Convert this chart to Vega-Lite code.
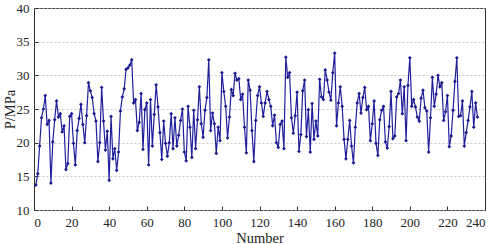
{
  "$schema": "https://vega.github.io/schema/vega-lite/v6.json",
  "width": 451,
  "height": 202,
  "autosize": {"type": "none"},
  "padding": {"left": 34, "top": 8, "right": 13, "bottom": 34},
  "background": "white",
  "config": {
    "view": {"stroke": "#333333", "strokeWidth": 1},
    "font": "Liberation Serif",
    "axis": {
      "labelFont": "Liberation Serif",
      "titleFont": "Liberation Serif",
      "labelFontSize": 13,
      "titleFontSize": 14.5,
      "titleFontWeight": "normal",
      "labelColor": "#222222",
      "titleColor": "#222222",
      "domain": false,
      "tickColor": "#333333",
      "tickSize": -4,
      "gridColor": "#bbbbbb",
      "gridDash": [2, 2],
      "gridWidth": 0.8
    }
  },
  "data": {
    "values": [
      {"n":1,"p":13.7},{"n":2,"p":15.4},{"n":3,"p":19.5},{"n":4,"p":23.7},{"n":5,"p":25},{"n":6,"p":27},{"n":7,"p":22.7},{"n":8,"p":23.3},{"n":9,"p":14},{"n":10,"p":20.1},
      {"n":11,"p":23.4},{"n":12,"p":26.2},{"n":13,"p":23.8},{"n":14,"p":24.3},{"n":15,"p":21.6},{"n":16,"p":22.5},{"n":17,"p":16},{"n":18,"p":16.9},{"n":19,"p":23.9},{"n":20,"p":24.3},
      {"n":21,"p":19.9},{"n":22,"p":16.7},{"n":23,"p":21.8},{"n":24,"p":23.6},{"n":25,"p":25.7},{"n":26,"p":22.7},{"n":27,"p":20},{"n":28,"p":24},{"n":29,"p":28.9},{"n":30,"p":27.7},
      {"n":31,"p":26.7},{"n":32,"p":24.3},{"n":33,"p":23.2},{"n":34,"p":17.2},{"n":35,"p":20},{"n":36,"p":28.2},{"n":37,"p":23.2},{"n":38,"p":18.9},{"n":39,"p":21.7},{"n":40,"p":14.4},
      {"n":41,"p":23.9},{"n":42,"p":17.6},{"n":43,"p":19.1},{"n":44,"p":15.9},{"n":45,"p":18.6},{"n":46,"p":24.7},{"n":47,"p":26.8},{"n":48,"p":28},{"n":49,"p":30.9},{"n":50,"p":31.1},
      {"n":51,"p":31.5},{"n":52,"p":32.3},{"n":53,"p":25.9},{"n":54,"p":26.4},{"n":55,"p":21.8},{"n":56,"p":23},{"n":57,"p":27.3},{"n":58,"p":19},{"n":59,"p":24.9},{"n":60,"p":25.9},
      {"n":61,"p":16.7},{"n":62,"p":26.4},{"n":63,"p":19.5},{"n":64,"p":24.2},{"n":65,"p":28.6},{"n":66,"p":25.3},{"n":67,"p":21.5},{"n":68,"p":17.5},{"n":69,"p":23.2},{"n":70,"p":19.9},
      {"n":71,"p":18},{"n":72,"p":20},{"n":73,"p":24.3},{"n":74,"p":19.1},{"n":75,"p":23.7},{"n":76,"p":19.5},{"n":77,"p":21.1},{"n":78,"p":23.3},{"n":79,"p":25},{"n":80,"p":18.6},
      {"n":81,"p":17.3},{"n":82,"p":25.4},{"n":83,"p":22.3},{"n":84,"p":17.8},{"n":85,"p":24.8},{"n":86,"p":19.1},{"n":87,"p":23.4},{"n":88,"p":28.3},{"n":89,"p":22.8},{"n":90,"p":20.8},
      {"n":91,"p":24.8},{"n":92,"p":26.7},{"n":93,"p":32.3},{"n":94,"p":21.8},{"n":95,"p":24.4},{"n":96,"p":22.8},{"n":97,"p":18.4},{"n":98,"p":22.3},{"n":99,"p":20.3},{"n":100,"p":30.4},
      {"n":101,"p":27.6},{"n":102,"p":25.4},{"n":103,"p":20.7},{"n":104,"p":23.8},{"n":105,"p":27.9},{"n":106,"p":27},{"n":107,"p":30.3},{"n":108,"p":29.3},{"n":109,"p":29.5},{"n":110,"p":26.4},
      {"n":111,"p":27.2},{"n":112,"p":22.3},{"n":113,"p":18.5},{"n":114,"p":29.3},{"n":115,"p":27.8},{"n":116,"p":21.8},{"n":117,"p":17.2},{"n":118,"p":23.3},{"n":119,"p":27},{"n":120,"p":28.3},
      {"n":121,"p":25.9},{"n":122,"p":23.9},{"n":123,"p":25.9},{"n":124,"p":27.6},{"n":125,"p":26.4},{"n":126,"p":25.4},{"n":127,"p":22.5},{"n":128,"p":24.1},{"n":129,"p":20},{"n":130,"p":19.3},
      {"n":131,"p":22.7},{"n":132,"p":23.2},{"n":133,"p":19.1},{"n":134,"p":32.7},{"n":135,"p":29.7},{"n":136,"p":30.4},{"n":137,"p":23.7},{"n":138,"p":21.4},{"n":139,"p":24},{"n":140,"p":27.5},
      {"n":141,"p":18.7},{"n":142,"p":21.2},{"n":143,"p":27.7},{"n":144,"p":29.3},{"n":145,"p":20.9},{"n":146,"p":24.9},{"n":147,"p":18.6},{"n":148,"p":25.8},{"n":149,"p":20.5},{"n":150,"p":23.2},
      {"n":151,"p":21},{"n":152,"p":29.4},{"n":153,"p":26.8},{"n":154,"p":26.4},{"n":155,"p":30.8},{"n":156,"p":29.3},{"n":157,"p":27.5},{"n":158,"p":26.3},{"n":159,"p":30.4},{"n":160,"p":33.3},
      {"n":161,"p":22.5},{"n":162,"p":25.9},{"n":163,"p":28.3},{"n":164,"p":25.4},{"n":165,"p":20.5},{"n":166,"p":17.6},{"n":167,"p":20.5},{"n":168,"p":23.3},{"n":169,"p":19.5},{"n":170,"p":17},
      {"n":171,"p":22.3},{"n":172,"p":25.9},{"n":173,"p":27.3},{"n":174,"p":24.4},{"n":175,"p":26.7},{"n":176,"p":28.2},{"n":177,"p":24.9},{"n":178,"p":25.4},{"n":179,"p":20.3},{"n":180,"p":22.8},
      {"n":181,"p":26.2},{"n":182,"p":19.9},{"n":183,"p":18.1},{"n":184,"p":23.4},{"n":185,"p":24.8},{"n":186,"p":25.4},{"n":187,"p":20.1},{"n":188,"p":19.2},{"n":189,"p":22.4},{"n":190,"p":27.6},
      {"n":191,"p":20.6},{"n":192,"p":21},{"n":193,"p":26.8},{"n":194,"p":27.3},{"n":195,"p":29.3},{"n":196,"p":24.3},{"n":197,"p":28.3},{"n":198,"p":20.3},{"n":199,"p":28.5},{"n":200,"p":32.6},
      {"n":201,"p":25.4},{"n":202,"p":26.4},{"n":203,"p":25.3},{"n":204,"p":23.8},{"n":205,"p":23.2},{"n":206,"p":26.6},{"n":207,"p":27.8},{"n":208,"p":25.2},{"n":209,"p":24.7},{"n":210,"p":18.6},
      {"n":211,"p":23.7},{"n":212,"p":29.7},{"n":213,"p":25.4},{"n":214,"p":27.2},{"n":215,"p":30},{"n":216,"p":28.3},{"n":217,"p":28.9},{"n":218,"p":23.3},{"n":219,"p":24.6},{"n":220,"p":27},
      {"n":221,"p":19.4},{"n":222,"p":21},{"n":223,"p":24.8},{"n":224,"p":29.1},{"n":225,"p":32.6},{"n":226,"p":23.9},{"n":227,"p":24},{"n":228,"p":26.2},{"n":229,"p":19.5},{"n":230,"p":21.5},
      {"n":231,"p":23.3},{"n":232,"p":25.3},{"n":233,"p":27.6},{"n":234,"p":22.3},{"n":235,"p":25.9},{"n":236,"p":23.8}
    ]
  },
  "mark": {
    "type": "line",
    "color": "#1f1f9e",
    "strokeWidth": 1.2,
    "point": {"shape": "diamond", "size": 14, "filled": true, "color": "#1a1a8c"}
  },
  "encoding": {
    "x": {
      "field": "n",
      "type": "quantitative",
      "scale": {"domain": [0, 240], "nice": false, "zero": false},
      "axis": {"title": "Number", "values": [0,20,40,60,80,100,120,140,160,180,200,220,240], "grid": false, "labelPadding": 10, "titleY": 32, "titleBaseline": "alphabetic"}
    },
    "y": {
      "field": "p",
      "type": "quantitative",
      "scale": {"domain": [10, 40], "nice": false, "zero": false},
      "axis": {"title": "P/MPa", "values": [10,15,20,25,30,35,40], "grid": true, "labelPadding": 9, "titleX": -24, "titleBaseline": "middle"}
    }
  }
}
